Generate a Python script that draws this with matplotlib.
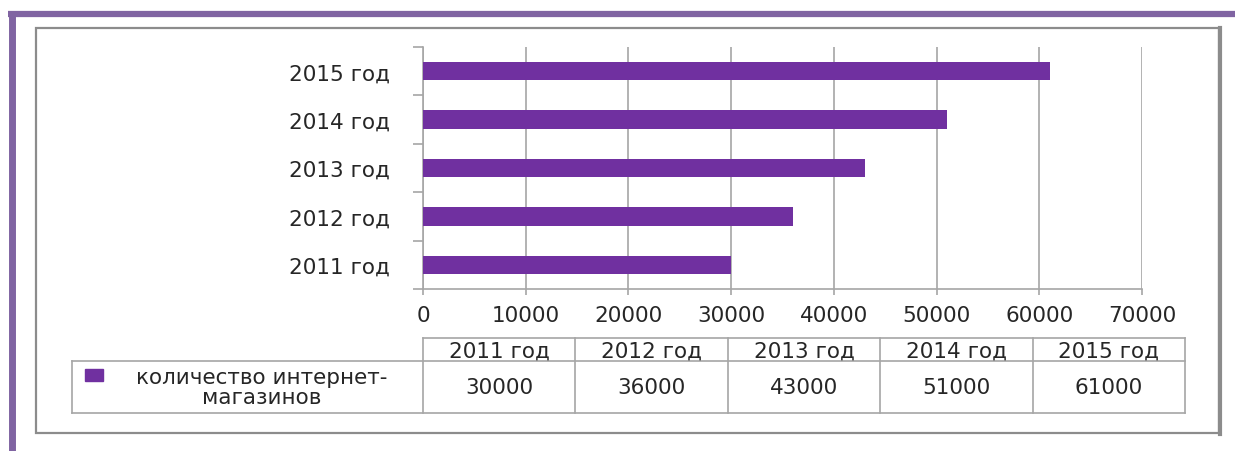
import matplotlib
matplotlib.use("Agg")
import matplotlib.pyplot as plt
from matplotlib.patches import Rectangle

# data
years = ["2011 год", "2012 год", "2013 год", "2014 год", "2015 год"]
shops = [30000, 36000, 43000, 51000, 61000]
series_name = "количество интернет-\nмагазинов"
x_ticks = [0, 10000, 20000, 30000, 40000, 50000, 60000, 70000]

W, H = 1235, 452
bar_color = "#7030A0"
grid_color = "#A6A6A6"
text_color = "#262626"
fs = 15.5

plt.rcParams["font.family"] = ["DejaVu Sans"]
fig = plt.figure(figsize=(W / 100, H / 100), dpi=100)

# overlay in pixel coordinates for the frame, slide border and data table
ov = fig.add_axes([0, 0, 1, 1])
ov.set_xlim(0, W)
ov.set_ylim(H, 0)
ov.axis("off")

# slide border (purple)
ov.plot([8, W], [15, 15], color="#8064A2", lw=4.5, solid_capstyle="butt")
ov.plot([11.5, 11.5], [12, H], color="#8064A2", lw=5, solid_capstyle="butt")

# chart frame
ov.add_patch(Rectangle((36, 29), 1183, 405, fill=False, ec="#8C8C8C", lw=1.6))
ov.plot([1220, 1220], [29, 435], color="#8C8C8C", lw=3)

# data table
col_left = 423
col_w = 152.4
legend_left = 72
top, mid, bot = 339, 362, 414
n = len(years)
right = col_left + n * col_w
tk = dict(color=grid_color, lw=1.2)
ov.plot([col_left, right], [top, top], **tk)
ov.plot([legend_left, right], [mid, mid], **tk)
ov.plot([legend_left, right], [bot, bot], **tk)
ov.plot([legend_left, legend_left], [mid, bot], **tk)
for i in range(n + 1):
    x = col_left + i * col_w
    ov.plot([x, x], [top, bot], **tk)
for i, (yr, v) in enumerate(zip(years, shops)):
    cx = col_left + (i + 0.5) * col_w
    ov.text(cx, (top + mid) / 2 + 1, yr, ha="center", va="center", fontsize=fs, color=text_color)
    ov.text(cx, (mid + bot) / 2, str(v), ha="center", va="center", fontsize=fs, color=text_color)
ov.add_patch(Rectangle((85, 370), 18, 12, color=bar_color))
ov.text(262, (mid + bot) / 2, series_name, ha="center", va="center", fontsize=fs,
        color=text_color, linespacing=0.95)

# bar chart
ax = fig.add_axes([423 / W, 1 - 290 / H, (1142 - 423) / W, 242 / H])
pos = list(range(n))
ax.barh(pos, shops, height=0.38, color=bar_color, zorder=3)
ax.set_xlim(0, 70000)
ax.set_ylim(-0.5, n - 0.5)
ax.set_xticks(x_ticks)
ax.set_xticklabels([str(t) for t in x_ticks])
ax.set_yticks(pos)
ax.set_yticklabels(years)
ax.set_yticks([p - 0.5 for p in range(n + 1)], minor=True)
ax.tick_params(axis="y", which="major", length=0, pad=24, labelsize=fs, labelcolor=text_color)
ax.tick_params(axis="y", which="minor", length=7, color=grid_color, width=1.2)
ax.tick_params(axis="x", length=4.5, color=grid_color, width=1.2, pad=7,
               labelsize=fs, labelcolor=text_color)
ax.xaxis.grid(True, color=grid_color, lw=1.2, zorder=0)
for s in ["top", "right"]:
    ax.spines[s].set_visible(False)
for s in ["left", "bottom"]:
    ax.spines[s].set_color(grid_color)
    ax.spines[s].set_linewidth(1.2)
ax.patch.set_alpha(0)

fig.savefig("out.png", dpi=100)
